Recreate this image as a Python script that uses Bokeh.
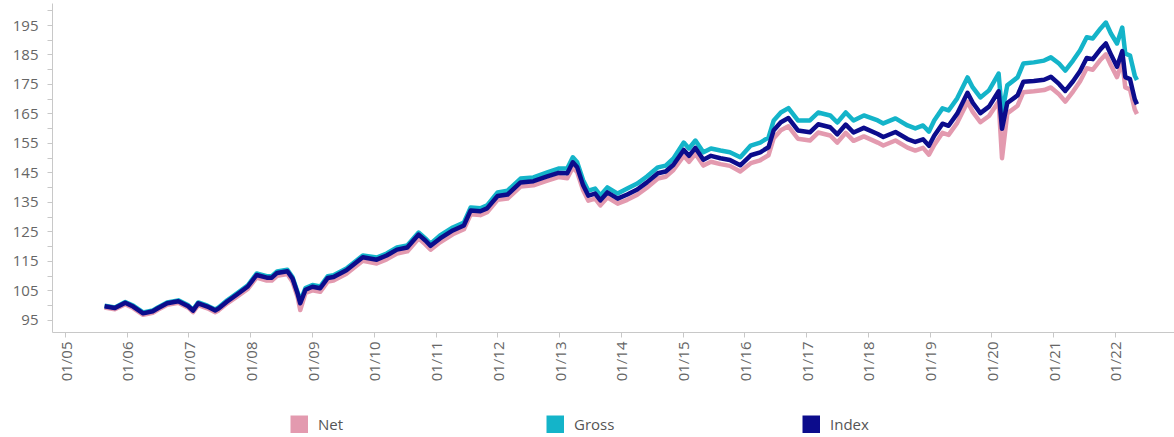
import math
import pandas as pd
from bokeh.plotting import figure
from bokeh.layouts import column
from bokeh.models import (ColumnDataSource, Range1d, FixedTicker, DatetimeTickFormatter,
                          Legend, LegendItem)
from bokeh.embed import file_html
from bokeh.resources import INLINE

# ---------------- data ----------------
dates = [
    "2005-08-20", "2005-10-20", "2005-12-20", "2006-02-05", "2006-04-05", "2006-06-01",
    "2006-07-01", "2006-08-25", "2006-10-30", "2006-12-28", "2007-01-25", "2007-02-25",
    "2007-04-20", "2007-06-05", "2007-06-25", "2007-08-15", "2007-10-10", "2007-12-15",
    "2008-02-05", "2008-04-05", "2008-05-05", "2008-06-05", "2008-08-05", "2008-09-05",
    "2008-10-05", "2008-10-20", "2008-11-20", "2008-12-31", "2009-02-15", "2009-04-01",
    "2009-05-05", "2009-07-20", "2009-10-25", "2010-01-15", "2010-03-15", "2010-05-15",
    "2010-07-15", "2010-09-20", "2010-10-30", "2010-11-30", "2011-01-25", "2011-04-10",
    "2011-06-15", "2011-07-25", "2011-09-20", "2011-10-30", "2011-12-31", "2012-02-28",
    "2012-05-15", "2012-07-30", "2012-10-20", "2012-12-25", "2013-02-15", "2013-03-20",
    "2013-04-15", "2013-05-20", "2013-06-20", "2013-07-30", "2013-08-30", "2013-10-10",
    "2013-12-10", "2014-02-05", "2014-04-05", "2014-06-01", "2014-08-05", "2014-09-20",
    "2014-11-05", "2015-01-05", "2015-02-05", "2015-03-15", "2015-05-01", "2015-06-15",
    "2015-08-10", "2015-10-05", "2015-12-05", "2016-02-05", "2016-04-01", "2016-05-20",
    "2016-06-20", "2016-08-01", "2016-09-15", "2016-11-10", "2017-01-20", "2017-03-10",
    "2017-05-20", "2017-07-01", "2017-08-20", "2017-10-05", "2017-12-05", "2018-02-25",
    "2018-03-30", "2018-06-10", "2018-08-20", "2018-10-05", "2018-11-20", "2018-12-25",
    "2019-01-25", "2019-03-15", "2019-04-20", "2019-06-10", "2019-08-10", "2019-09-10",
    "2019-10-25", "2019-12-15", "2020-02-10", "2020-03-01", "2020-04-01", "2020-06-01",
    "2020-07-05", "2020-09-05", "2020-11-05", "2020-12-15", "2021-02-01", "2021-03-10",
    "2021-04-25", "2021-06-05", "2021-07-15", "2021-08-20", "2021-10-05", "2021-11-05",
    "2021-12-05", "2022-01-10", "2022-02-10", "2022-02-28", "2022-03-28", "2022-04-25",
    "2022-05-08",
]

gross = [
    100.0, 99.4, 101.2, 100.0, 97.7, 98.4, 99.4, 101.1, 101.8, 100.1, 98.6, 101.1,
    100.0, 98.7, 99.4, 101.8, 104.1, 106.9, 110.9, 110.0, 110.0, 111.6, 112.2, 109.6,
    104.5, 101.5, 106.0, 107.0, 106.5, 110.0, 110.3, 112.6, 117.0, 116.3, 117.7, 119.7,
    120.4, 124.8, 122.8, 121.0, 123.8, 126.5, 128.2, 133.3, 133.0, 134.0, 138.4, 139.0,
    143.1, 143.5, 145.2, 146.5, 146.5, 150.3, 148.6, 142.5, 139.0, 139.7, 137.4, 140.1,
    138.0, 139.7, 141.4, 143.8, 146.9, 147.5, 149.9, 155.3, 153.3, 156.0, 152.0, 153.3,
    152.6, 152.0, 150.3, 154.3, 155.3, 157.0, 162.8, 165.5, 167.0, 162.8, 162.8, 165.5,
    164.5, 162.1, 165.5, 162.8, 164.5, 162.8, 161.8, 163.5, 161.1, 160.1, 161.1, 159.0,
    162.8, 166.9, 166.2, 170.3, 177.4, 174.0, 170.6, 173.0, 178.7, 165.2, 174.7, 177.4,
    182.1, 182.5, 183.1, 184.2, 182.1, 179.7, 183.1, 186.5, 191.0, 190.6, 194.0, 196.0,
    192.3, 188.9, 194.3, 185.5, 184.8, 178.0, 176.5,
]

index = [
    99.8, 99.2, 101.0, 99.7, 97.4, 98.1, 99.1, 100.8, 101.5, 99.8, 98.3, 100.8,
    99.7, 98.4, 99.0, 101.4, 103.7, 106.5, 110.4, 109.5, 109.5, 111.1, 111.7, 109.1,
    104.0, 100.8, 105.4, 106.4, 105.9, 109.4, 109.7, 112.0, 116.4, 115.6, 117.0, 119.0,
    119.7, 124.1, 122.1, 120.3, 122.8, 125.5, 127.2, 132.3, 132.0, 133.0, 137.2, 137.7,
    141.8, 142.2, 143.8, 145.0, 144.9, 148.6, 146.9, 140.8, 137.3, 138.0, 135.7, 138.4,
    136.3, 137.7, 139.4, 141.8, 144.9, 145.5, 147.8, 152.8, 150.8, 153.5, 149.5, 150.8,
    150.0, 149.4, 147.6, 151.0, 152.0, 153.7, 159.5, 162.2, 163.6, 159.4, 158.8, 161.5,
    160.5, 158.1, 161.4, 158.7, 160.3, 158.2, 157.2, 158.9, 156.5, 155.5, 156.4, 154.2,
    157.6, 161.7, 161.0, 165.1, 172.2, 168.8, 165.3, 167.5, 172.7, 160.0, 168.7, 171.3,
    175.9, 176.2, 176.6, 177.6, 175.2, 172.8, 176.1, 179.5, 184.0, 183.6, 187.0, 188.9,
    185.2, 181.0, 186.3, 177.5, 176.8, 170.0, 168.3,
]

net = [
    99.4, 98.8, 100.5, 99.2, 96.9, 97.6, 98.6, 100.3, 101.0, 99.3, 97.8, 100.2,
    99.1, 97.8, 98.4, 100.8, 103.0, 105.7, 109.5, 108.5, 108.5, 110.1, 110.7, 108.0,
    102.8, 98.5, 104.3, 105.2, 104.7, 108.2, 108.5, 110.8, 115.2, 114.3, 115.7, 117.7,
    118.4, 122.8, 120.8, 119.0, 121.5, 124.2, 125.9, 131.0, 130.7, 131.7, 135.9, 136.3,
    140.4, 140.8, 142.4, 143.6, 143.2, 146.9, 145.2, 139.1, 135.6, 136.3, 134.0, 136.7,
    134.6, 135.9, 137.6, 140.0, 143.1, 143.7, 146.0, 150.8, 148.8, 151.5, 147.5, 148.8,
    148.0, 147.4, 145.5, 148.3, 149.3, 151.0, 156.8, 159.5, 160.8, 156.6, 156.0, 158.7,
    157.7, 155.3, 158.6, 155.9, 157.4, 155.3, 154.3, 156.0, 153.6, 152.6, 153.5, 151.2,
    154.5, 158.6, 157.9, 162.0, 169.1, 165.7, 162.2, 164.3, 169.2, 150.0, 165.2, 167.8,
    172.4, 172.7, 173.1, 174.0, 171.7, 169.2, 172.6, 176.0, 180.5, 180.0, 183.4, 185.2,
    181.5, 177.5, 182.8, 174.0, 173.3, 166.5, 165.0,
]

series_names = ["Net", "Gross", "Index"]
series_colors = ["#E39AAF", "#14B4C9", "#0C0C8C"]

tick_years = list(range(2005, 2023))
tick_labels = ["01/%02d" % (y % 100) for y in tick_years]
y_ticks = [95, 105, 115, 125, 135, 145, 155, 165, 175, 185, 195]
y_minor = [100, 110, 120, 130, 140, 150, 160, 170, 180, 190, 200]

# ---------------- main figure ----------------
x = pd.to_datetime(dates)
src = ColumnDataSource(dict(x=x, Net=net, Gross=gross, Index=index))

p = figure(x_axis_type="datetime", output_backend="svg", toolbar_location=None,
           frame_width=1122, frame_height=329,
           min_border_left=52, min_border_right=0, min_border_top=3, min_border_bottom=58,
           x_range=Range1d(pd.Timestamp("2004-10-16"), pd.Timestamp("2022-12-16")),
           y_range=Range1d(90.9, 202.46))
p.outline_line_color = None
p.background_fill_color = "white"
p.border_fill_color = "white"
p.xgrid.visible = False
p.ygrid.visible = False

for name, col in zip(series_names, series_colors):
    p.line("x", name, source=src, line_color=col, line_width=4.5, line_join="round")

tick_ms = [pd.Timestamp("%d-01-01" % y).value / 1e6 for y in tick_years]
p.xaxis.ticker = FixedTicker(ticks=tick_ms, minor_ticks=[])
p.xaxis.formatter = DatetimeTickFormatter(
    years="%m/%y", months="%m/%y", days="%m/%y", hours="%m/%y",
    hourmin="%m/%y", minutes="%m/%y", minsec="%m/%y", seconds="%m/%y",
    milliseconds="%m/%y", microseconds="%m/%y")
p.xaxis.major_label_overrides = {t: l for t, l in zip(tick_ms, tick_labels)}
p.xaxis.major_label_orientation = math.pi / 2

p.yaxis.ticker = FixedTicker(ticks=y_ticks, minor_ticks=y_minor)

for ax in (p.xaxis[0], p.yaxis[0]):
    ax.axis_line_color = "#c8c8c8"
    ax.major_tick_line_color = "#c8c8c8"
    ax.minor_tick_line_color = "#c8c8c8"
    ax.major_tick_out = 5
    ax.major_tick_in = 0
    ax.minor_tick_out = 5
    ax.minor_tick_in = 0
    ax.major_label_text_font = "Open Sans"
    ax.major_label_text_font_size = "15px"
    ax.major_label_text_color = "#666666"
p.yaxis.major_label_standoff = 9
p.xaxis.major_label_standoff = 4

# ---------------- legend strip ----------------
lg = figure(output_backend="svg", toolbar_location=None,
            frame_width=1174, frame_height=47,
            min_border_left=0, min_border_right=0, min_border_top=0, min_border_bottom=0,
            x_axis_location=None, y_axis_location=None,
            x_range=Range1d(0, 1), y_range=Range1d(0, 1))
lg.outline_line_color = None
lg.xgrid.visible = False
lg.ygrid.visible = False

# legend-only renderers (their data lies outside the strip's view, so only the
# legend swatch shows); a thick butt-capped line draws as an 18x18 square
swatches = []
for name, col in zip(series_names, series_colors):
    s = lg.line(x=[5, 6], y=[5, 5], line_color=col, line_width=18, line_cap="butt")
    swatches.append(s)

legend = Legend(items=[LegendItem(label=n, renderers=[s]) for n, s in zip(series_names, swatches)],
                orientation="horizontal", location=(290, 3),
                glyph_width=18, glyph_height=18, label_standoff=10, spacing=0,
                label_width=228, padding=0, margin=0,
                border_line_color=None, background_fill_alpha=0,
                label_text_font="Open Sans", label_text_font_size="15px",
                label_text_color="#555555")
lg.add_layout(legend, "center")

layout = column(p, lg, spacing=0)
open("out.html", "w").write(file_html(layout, INLINE))
